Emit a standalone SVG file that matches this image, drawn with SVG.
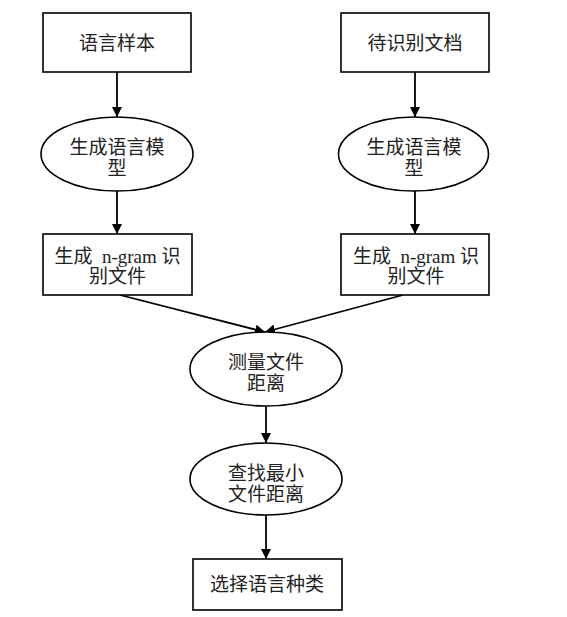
<svg xmlns="http://www.w3.org/2000/svg" width="567" height="617" viewBox="0 0 567 617">
<style>
.s{fill:#fff;stroke:#000;stroke-width:1.6}
.t{font-family:"Liberation Serif","Noto Sans CJK SC",serif;font-size:19px;fill:#222;text-anchor:middle;dominant-baseline:central}
.c{stroke:#000;stroke-width:1.8;fill:none;marker-end:url(#a)}
</style>
<defs>
<marker id="a" markerWidth="10" markerHeight="10" refX="10" refY="5" orient="auto" markerUnits="userSpaceOnUse">
<path d="M0,0 L10,5 L0,10 Z" fill="#000"/>
</marker>
</defs>
<rect width="567" height="617" fill="#fff"/>
<g id="connectors">
<line class="c" x1="117" y1="72" x2="117" y2="117"/>
<line class="c" x1="117" y1="191" x2="117" y2="234"/>
<line class="c" x1="415" y1="72" x2="415" y2="117"/>
<line class="c" x1="415" y1="191" x2="415" y2="234"/>
<line class="c" x1="120" y1="295" x2="265" y2="332"/>
<line class="c" x1="403" y1="295" x2="265" y2="332"/>
<line class="c" x1="266" y1="406" x2="266" y2="443"/>
<line class="c" x1="266" y1="515" x2="266" y2="559"/>
</g>
<g id="n1"><rect class="s" x="43" y="13" width="148" height="59"/><text class="t" x="117" y="43">语言样本</text></g>
<g id="n2"><rect class="s" x="341" y="13" width="148" height="59"/><text class="t" x="415" y="43">待识别文档</text></g>
<g id="n3"><ellipse class="s" cx="117" cy="154" rx="76" ry="37"/><text class="t" x="117" y="147">生成语言模</text><text class="t" x="117" y="168">型</text></g>
<g id="n4"><ellipse class="s" cx="413.5" cy="154" rx="75" ry="37"/><text class="t" x="414" y="147">生成语言模</text><text class="t" x="414" y="168">型</text></g>
<g id="n5"><rect class="s" x="43" y="234" width="149" height="61"/><text class="t" x="117.5" y="256" xml:space="preserve">生成  n-gram 识</text><text class="t" x="117.5" y="276">别文件</text></g>
<g id="n6"><rect class="s" x="341" y="234" width="148" height="61"/><text class="t" x="416" y="256" xml:space="preserve">生成  n-gram 识</text><text class="t" x="416" y="276">别文件</text></g>
<g id="n7"><ellipse class="s" cx="266" cy="369" rx="76" ry="37"/><text class="t" x="266" y="362">测量文件</text><text class="t" x="266" y="383">距离</text></g>
<g id="n8"><ellipse class="s" cx="266" cy="479" rx="76" ry="36"/><text class="t" x="266" y="473">查找最小</text><text class="t" x="266" y="494">文件距离</text></g>
<g id="n9"><rect class="s" x="193" y="559" width="149" height="51"/><text class="t" x="267" y="584">选择语言种类</text></g>
</svg>
